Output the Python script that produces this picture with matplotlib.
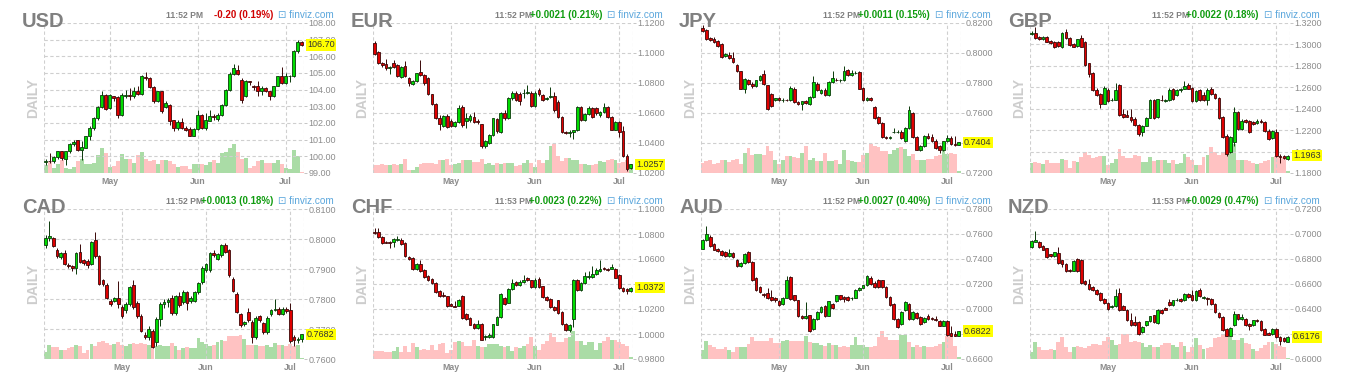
import matplotlib
matplotlib.use("Agg")
import matplotlib.pyplot as plt
import numpy as np

plt.rcParams["font.family"] = ["Liberation Sans", "DejaVu Sans"]

# daily candles, rows are (open, high, low, close); volumes in arbitrary units
usd_ohlc = [
    (99.65, 99.85, 99.5, 99.75), (99.75, 100.2, 99.6, 99.7), (99.7, 100.0, 99.6, 99.95),
    (99.95, 100.35, 99.85, 100.3), (100.3, 100.35, 99.8, 99.9), (99.85, 100.35, 99.5, 100.3),
    (100.3, 100.8, 100.2, 100.75), (100.75, 101.0, 100.6, 100.85), (101.0, 101.0, 100.3, 100.4),
    (100.4, 100.9, 99.8, 100.55), (100.5, 101.25, 100.5, 101.2), (101.2, 101.8, 101.0, 101.7),
    (101.7, 102.35, 101.6, 102.3), (102.3, 103.05, 102.2, 102.95), (102.95, 103.9, 102.9, 103.7),
    (103.7, 103.75, 102.8, 102.85), (102.9, 103.75, 102.85, 103.7), (103.6, 103.65, 103.3, 103.5),
    (103.55, 103.6, 102.3, 102.5), (102.5, 103.8, 102.4, 103.7), (103.6, 104.0, 103.5, 103.65),
    (103.65, 104.1, 103.4, 103.6), (103.6, 104.15, 103.5, 103.95), (103.95, 104.2, 103.7, 103.75),
    (103.75, 104.9, 103.7, 104.85), (104.75, 105.05, 104.6, 104.7), (104.7, 104.75, 104.1, 104.15),
    (104.15, 104.2, 103.2, 103.3), (103.3, 103.95, 103.25, 103.9), (103.9, 103.95, 102.6, 102.7),
    (102.95, 103.3, 102.9, 103.2), (103.1, 103.15, 101.9, 102.15), (102.15, 102.2, 101.55, 101.7),
    (101.7, 102.2, 101.6, 102.05), (102.05, 102.3, 101.65, 101.7), (101.7, 101.8, 101.5, 101.6),
    (101.65, 101.75, 101.2, 101.25), (101.25, 101.7, 101.2, 101.65), (101.65, 102.8, 101.6, 102.5),
    (102.5, 102.55, 101.65, 101.7), (101.7, 102.6, 101.6, 102.15), (102.15, 102.8, 102.1, 102.45),
    (102.45, 102.55, 102.2, 102.35), (102.25, 102.6, 102.1, 102.5), (102.5, 103.15, 102.4, 103.1),
    (103.1, 104.05, 103.0, 104.0), (104.0, 105.05, 103.9, 104.95), (104.95, 105.55, 104.9, 105.3),
    (105.2, 105.5, 104.9, 104.95), (104.6, 104.7, 103.2, 103.4), (103.6, 104.6, 103.55, 104.5),
    (104.5, 104.55, 104.3, 104.45), (104.2, 104.3, 104.0, 104.15), (104.2, 104.5, 103.6, 103.9),
    (103.9, 104.2, 103.7, 104.1), (104.1, 104.15, 103.85, 103.9), (103.9, 103.95, 103.4, 103.6),
    (103.6, 104.25, 103.55, 104.2), (104.2, 104.85, 104.2, 104.8), (104.8, 105.35, 104.35, 104.4),
    (104.4, 105.0, 104.35, 104.8), (104.8, 104.9, 104.45, 104.8), (104.8, 106.4, 104.75, 106.3),
    (106.3, 107.0, 106.2, 106.85), (106.85, 106.9, 106.6, 106.7),
]
usd_vol = [23, 33, 16, 28, 40, 15, 13, 18, 35, 41,
           28, 28, 30, 53, 75, 60, 18, 21, 35, 56,
           43, 43, 30, 55, 63, 41, 35, 40, 28, 38,
           40, 36, 28, 18, 22, 20, 13, 28, 28, 28,
           25, 33, 38, 30, 60, 63, 75, 86, 63, 43,
           45, 15, 21, 35, 40, 31, 31, 31, 40, 28,
           15, 13, 68, 51, 2]

eur_ohlc = [
    (1.1070, 1.1082, 1.0985, 1.0992), (1.1010, 1.1015, 1.0925, 1.0932), (1.0932, 1.0940, 1.0910, 1.0919),
    (1.0925, 1.0960, 1.0890, 1.0899), (1.0903, 1.0915, 1.0860, 1.0910), (1.0935, 1.0955, 1.0900, 1.0905),
    (1.0917, 1.0925, 1.0840, 1.0847), (1.0838, 1.0915, 1.0832, 1.0910), (1.0913, 1.0945, 1.0840, 1.0847),
    (1.0832, 1.0840, 1.0780, 1.0803), (1.0794, 1.0820, 1.0788, 1.0812), (1.0814, 1.0870, 1.0805, 1.0865),
    (1.0874, 1.0955, 1.0848, 1.0854), (1.0854, 1.0860, 1.0790, 1.0798), (1.0832, 1.0838, 1.0718, 1.0724),
    (1.0724, 1.0730, 1.0652, 1.0660), (1.0660, 1.0665, 1.0560, 1.0570), (1.0570, 1.0585, 1.0490, 1.0526),
    (1.0515, 1.0590, 1.0505, 1.0582), (1.0582, 1.0595, 1.0500, 1.0508), (1.0546, 1.0560, 1.0505, 1.0512),
    (1.0515, 1.0550, 1.0508, 1.0542), (1.0542, 1.0655, 1.0535, 1.0631), (1.0638, 1.0655, 1.0508, 1.0519),
    (1.0548, 1.0600, 1.0500, 1.0568), (1.0553, 1.0595, 1.0540, 1.0580), (1.0575, 1.0605, 1.0535, 1.0542),
    (1.0546, 1.0560, 1.0530, 1.0537), (1.0526, 1.0530, 1.0365, 1.0379), (1.0379, 1.0420, 1.0365, 1.0414),
    (1.0403, 1.0460, 1.0395, 1.0452), (1.0452, 1.0570, 1.0445, 1.0564), (1.0559, 1.0565, 1.0470, 1.0479),
    (1.0472, 1.0610, 1.0465, 1.0602), (1.0597, 1.0620, 1.0555, 1.0564), (1.0564, 1.0705, 1.0560, 1.0698),
    (1.0698, 1.0745, 1.0690, 1.0736), (1.0736, 1.0745, 1.0680, 1.0687), (1.0725, 1.0740, 1.0655, 1.0680),
    (1.0731, 1.0760, 1.0700, 1.0736), (1.0736, 1.0790, 1.0730, 1.0740), (1.0736, 1.0745, 1.0640, 1.0646),
    (1.0646, 1.0745, 1.0640, 1.0736), (1.0753, 1.0765, 1.0715, 1.0724), (1.0720, 1.0730, 1.0680, 1.0687),
    (1.0691, 1.0710, 1.0685, 1.0702), (1.0704, 1.0775, 1.0700, 1.0716), (1.0716, 1.0740, 1.0610, 1.0620),
    (1.0675, 1.0685, 1.0565, 1.0575), (1.0575, 1.0580, 1.0465, 1.0475), (1.0475, 1.0480, 1.0460, 1.0470),
    (1.0470, 1.0490, 1.0440, 1.0472), (1.0475, 1.0490, 1.0430, 1.0486), (1.0486, 1.0645, 1.0480, 1.0638),
    (1.0638, 1.0645, 1.0545, 1.0553), (1.0553, 1.0600, 1.0545, 1.0591), (1.0591, 1.0645, 1.0585, 1.0631),
    (1.0631, 1.0640, 1.0565, 1.0575), (1.0631, 1.0640, 1.0590, 1.0600), (1.0590, 1.0615, 1.0575, 1.0604),
    (1.0604, 1.0670, 1.0598, 1.0642), (1.0642, 1.0650, 1.0565, 1.0575), (1.0575, 1.0580, 1.0485, 1.0490),
    (1.0490, 1.0545, 1.0485, 1.0537), (1.0537, 1.0545, 1.0440, 1.0475), (1.0479, 1.0515, 1.0305, 1.0314),
    (1.0314, 1.0330, 1.0215, 1.0229), (1.0235, 1.0262, 1.0230, 1.0257),
]
eur_vol = [23, 23, 28, 25, 23, 26, 25, 26, 43, 8,
           8, 18, 28, 31, 30, 31, 28, 40, 38, 41,
           23, 28, 31, 38, 40, 40, 33, 33, 43, 28,
           30, 23, 31, 28, 31, 31, 31, 21, 23, 30,
           40, 31, 18, 40, 30, 40, 81, 86, 51, 36,
           46, 46, 38, 38, 28, 28, 23, 23, 28, 36,
           33, 40, 43, 38, 30, 33, 40, 12]

jpy_ohlc = [
    (0.8166, 0.8185, 0.8140, 0.8148), (0.8155, 0.8160, 0.8090, 0.8095), (0.8099, 0.8105, 0.8080, 0.8088),
    (0.8092, 0.8110, 0.8068, 0.8074), (0.8081, 0.8090, 0.8040, 0.8047), (0.8061, 0.8068, 0.7965, 0.7976),
    (0.7980, 0.8000, 0.7975, 0.7994), (0.7987, 0.8010, 0.7960, 0.7969), (0.7965, 0.8010, 0.7935, 0.7940),
    (0.7917, 0.7925, 0.7875, 0.7879), (0.7879, 0.7882, 0.7760, 0.7763), (0.7763, 0.7835, 0.7735, 0.7826),
    (0.7823, 0.7830, 0.7790, 0.7796), (0.7796, 0.7805, 0.7770, 0.7778), (0.7778, 0.7822, 0.7772, 0.7819),
    (0.7819, 0.7855, 0.7815, 0.7846), (0.7859, 0.7885, 0.7790, 0.7796), (0.7785, 0.7790, 0.7620, 0.7628),
    (0.7729, 0.7735, 0.7640, 0.7644), (0.7689, 0.7700, 0.7680, 0.7700), (0.7700, 0.7705, 0.7680, 0.7684),
    (0.7684, 0.7700, 0.7675, 0.7690), (0.7690, 0.7695, 0.7678, 0.7684), (0.7684, 0.7780, 0.7680, 0.7770),
    (0.7763, 0.7775, 0.7668, 0.7673), (0.7673, 0.7680, 0.7652, 0.7657), (0.7662, 0.7680, 0.7617, 0.7678),
    (0.7678, 0.7690, 0.7660, 0.7666), (0.7662, 0.7712, 0.7655, 0.7707), (0.7707, 0.7845, 0.7700, 0.7808),
    (0.7796, 0.7805, 0.7745, 0.7752), (0.7734, 0.7760, 0.7730, 0.7752), (0.7755, 0.7765, 0.7712, 0.7718),
    (0.7718, 0.7815, 0.7712, 0.7808), (0.7808, 0.7880, 0.7800, 0.7830), (0.7823, 0.7835, 0.7815, 0.7819),
    (0.7819, 0.7830, 0.7810, 0.7823), (0.7823, 0.7915, 0.7815, 0.7879), (0.7886, 0.7895, 0.7845, 0.7852),
    (0.7852, 0.7890, 0.7845, 0.7864), (0.7864, 0.7880, 0.7860, 0.7870), (0.7873, 0.7880, 0.7760, 0.7763),
    (0.7770, 0.7775, 0.7680, 0.7684), (0.7684, 0.7705, 0.7680, 0.7702), (0.7700, 0.7710, 0.7680, 0.7689),
    (0.7639, 0.7650, 0.7560, 0.7565), (0.7572, 0.7580, 0.7525, 0.7532), (0.7532, 0.7540, 0.7435, 0.7438),
    (0.7442, 0.7450, 0.7428, 0.7433), (0.7433, 0.7445, 0.7425, 0.7440), (0.7471, 0.7500, 0.7465, 0.7476),
    (0.7471, 0.7490, 0.7465, 0.7476), (0.7476, 0.7485, 0.7425, 0.7431), (0.7415, 0.7505, 0.7410, 0.7500),
    (0.7500, 0.7650, 0.7495, 0.7617), (0.7601, 0.7610, 0.7435, 0.7438), (0.7438, 0.7445, 0.7352, 0.7355),
    (0.7355, 0.7385, 0.7345, 0.7377), (0.7377, 0.7455, 0.7372, 0.7449), (0.7449, 0.7470, 0.7425, 0.7431),
    (0.7438, 0.7460, 0.7410, 0.7415), (0.7415, 0.7425, 0.7360, 0.7364), (0.7377, 0.7385, 0.7335, 0.7355),
    (0.7355, 0.7415, 0.7350, 0.7411), (0.7411, 0.7455, 0.7405, 0.7431), (0.7431, 0.7450, 0.7390, 0.7393),
    (0.7393, 0.7445, 0.7380, 0.7386), (0.7390, 0.7410, 0.7385, 0.7404),
]
jpy_vol = [30, 35, 38, 28, 31, 40, 38, 33, 40, 43,
           28, 60, 75, 53, 58, 58, 55, 81, 65, 40,
           26, 40, 51, 51, 48, 46, 60, 80, 40, 45,
           36, 36, 60, 36, 35, 40, 28, 68, 38, 36,
           33, 33, 53, 60, 88, 81, 78, 66, 66, 58,
           68, 75, 78, 73, 51, 56, 40, 40, 38, 43,
           43, 50, 53, 65, 56, 60, 56, 6]

gbp_ohlc = [
    (1.3100, 1.3122, 1.3090, 1.3106), (1.3106, 1.3162, 1.3050, 1.3059), (1.3065, 1.3080, 1.3040, 1.3049),
    (1.3049, 1.3075, 1.3040, 1.3068), (1.3068, 1.3075, 1.3020, 1.3027), (1.3034, 1.3045, 1.3000, 1.3012),
    (1.3027, 1.3035, 1.2970, 1.2980), (1.3018, 1.3030, 1.2980, 1.2987), (1.2980, 1.3115, 1.2965, 1.3106),
    (1.3115, 1.3140, 1.3050, 1.3059), (1.3059, 1.3065, 1.2990, 1.2996), (1.3002, 1.3010, 1.2975, 1.2980),
    (1.2987, 1.3055, 1.2980, 1.3049), (1.3059, 1.3090, 1.2975, 1.2980), (1.3027, 1.3035, 1.2800, 1.2808),
    (1.2823, 1.2830, 1.2700, 1.2723), (1.2735, 1.2740, 1.2565, 1.2572), (1.2572, 1.2590, 1.2515, 1.2525),
    (1.2535, 1.2545, 1.2410, 1.2447), (1.2447, 1.2610, 1.2440, 1.2597), (1.2579, 1.2590, 1.2465, 1.2472),
    (1.2478, 1.2500, 1.2470, 1.2484), (1.2484, 1.2640, 1.2478, 1.2572), (1.2626, 1.2632, 1.2330, 1.2337),
    (1.2353, 1.2400, 1.2310, 1.2321), (1.2337, 1.2390, 1.2320, 1.2327), (1.2321, 1.2395, 1.2280, 1.2296),
    (1.2305, 1.2320, 1.2240, 1.2252), (1.2252, 1.2260, 1.2150, 1.2164), (1.2180, 1.2250, 1.2150, 1.2243),
    (1.2243, 1.2320, 1.2235, 1.2315), (1.2315, 1.2490, 1.2310, 1.2478), (1.2484, 1.2495, 1.2305, 1.2315),
    (1.2321, 1.2495, 1.2315, 1.2487), (1.2484, 1.2525, 1.2470, 1.2478), (1.2470, 1.2490, 1.2460, 1.2480),
    (1.2478, 1.2590, 1.2470, 1.2579), (1.2588, 1.2595, 1.2480, 1.2494), (1.2525, 1.2580, 1.2515, 1.2572),
    (1.2572, 1.2595, 1.2560, 1.2588), (1.2588, 1.2660, 1.2580, 1.2610), (1.2619, 1.2640, 1.2580, 1.2588),
    (1.2597, 1.2605, 1.2460, 1.2472), (1.2472, 1.2575, 1.2465, 1.2566), (1.2572, 1.2580, 1.2475, 1.2484),
    (1.2525, 1.2560, 1.2470, 1.2478), (1.2478, 1.2590, 1.2430, 1.2579), (1.2588, 1.2600, 1.2525, 1.2535),
    (1.2541, 1.2550, 1.2495, 1.2503), (1.2503, 1.2510, 1.2305, 1.2315), (1.2321, 1.2330, 1.2125, 1.2133),
    (1.2149, 1.2160, 1.1955, 1.1982), (1.1992, 1.2150, 1.1985, 1.2139), (1.2086, 1.2420, 1.2050, 1.2368),
    (1.2368, 1.2375, 1.2200, 1.2211), (1.2211, 1.2300, 1.2205, 1.2284), (1.2296, 1.2305, 1.2265, 1.2274),
    (1.2284, 1.2295, 1.2170, 1.2180), (1.2274, 1.2285, 1.2250, 1.2258), (1.2264, 1.2300, 1.2255, 1.2284),
    (1.2284, 1.2300, 1.2265, 1.2274), (1.2274, 1.2285, 1.2180, 1.2189), (1.2196, 1.2210, 1.2110, 1.2117),
    (1.2127, 1.2200, 1.2120, 1.2189), (1.2186, 1.2215, 1.1950, 1.1960), (1.1960, 1.1975, 1.1890, 1.1945),
    (1.1955, 1.1965, 1.1930, 1.1940), (1.1929, 1.1970, 1.1920, 1.1963),
]
gbp_vol = [30, 33, 31, 28, 38, 31, 31, 31, 43, 40,
           15, 35, 33, 48, 63, 53, 46, 48, 50, 50,
           25, 30, 43, 71, 50, 45, 45, 53, 50, 33,
           33, 48, 35, 40, 40, 40, 30, 38, 28, 30,
           58, 48, 40, 23, 23, 48, 55, 77, 63, 53,
           63, 58, 60, 88, 40, 40, 38, 35, 30, 28,
           30, 35, 40, 48, 50, 52, 48, 5]

cad_ohlc = [
    (0.7979, 0.8012, 0.7970, 0.8004), (0.8002, 0.8061, 0.7995, 0.8011), (0.8002, 0.8008, 0.7972, 0.7976),
    (0.7965, 0.7970, 0.7938, 0.7943), (0.7940, 0.7956, 0.7934, 0.7952), (0.7952, 0.7965, 0.7912, 0.7916),
    (0.7913, 0.7920, 0.7905, 0.7909), (0.7909, 0.7915, 0.7895, 0.7905), (0.7905, 0.7957, 0.7885, 0.7952),
    (0.7957, 0.7982, 0.7920, 0.7924), (0.7929, 0.7935, 0.7915, 0.7920), (0.7926, 0.7932, 0.7905, 0.7913),
    (0.7916, 0.7995, 0.7912, 0.7991), (0.7998, 0.8022, 0.7938, 0.7943), (0.7943, 0.7948, 0.7848, 0.7851),
    (0.7862, 0.7866, 0.7845, 0.7851), (0.7848, 0.7852, 0.7800, 0.7804), (0.7795, 0.7800, 0.7778, 0.7784),
    (0.7795, 0.7808, 0.7790, 0.7804), (0.7804, 0.7860, 0.7770, 0.7784), (0.7775, 0.7780, 0.7738, 0.7742),
    (0.7762, 0.7790, 0.7755, 0.7782), (0.7782, 0.7845, 0.7778, 0.7840), (0.7848, 0.7862, 0.7768, 0.7773),
    (0.7787, 0.7795, 0.7738, 0.7742), (0.7745, 0.7750, 0.7690, 0.7695), (0.7681, 0.7690, 0.7668, 0.7672),
    (0.7672, 0.7710, 0.7665, 0.7700), (0.7695, 0.7700, 0.7636, 0.7641), (0.7656, 0.7740, 0.7645, 0.7732),
    (0.7732, 0.7790, 0.7710, 0.7784), (0.7784, 0.7800, 0.7770, 0.7790), (0.7790, 0.7805, 0.7775, 0.7798),
    (0.7804, 0.7812, 0.7748, 0.7753), (0.7753, 0.7815, 0.7748, 0.7809), (0.7809, 0.7825, 0.7774, 0.7779),
    (0.7790, 0.7830, 0.7785, 0.7823), (0.7823, 0.7828, 0.7765, 0.7786), (0.7795, 0.7810, 0.7788, 0.7804),
    (0.7795, 0.7828, 0.7790, 0.7823), (0.7823, 0.7858, 0.7818, 0.7853), (0.7857, 0.7910, 0.7850, 0.7905),
    (0.7898, 0.7920, 0.7890, 0.7916), (0.7896, 0.7958, 0.7890, 0.7952), (0.7954, 0.7965, 0.7940, 0.7946),
    (0.7935, 0.7952, 0.7930, 0.7949), (0.7946, 0.7982, 0.7940, 0.7979), (0.7979, 0.7988, 0.7955, 0.7957),
    (0.7963, 0.7968, 0.7875, 0.7879), (0.7868, 0.7875, 0.7822, 0.7827), (0.7818, 0.7822, 0.7752, 0.7756),
    (0.7751, 0.7755, 0.7708, 0.7712), (0.7717, 0.7728, 0.7710, 0.7725), (0.7756, 0.7770, 0.7725, 0.7731),
    (0.7725, 0.7730, 0.7655, 0.7672), (0.7672, 0.7742, 0.7668, 0.7737), (0.7742, 0.7748, 0.7725, 0.7731),
    (0.7721, 0.7725, 0.7685, 0.7689), (0.7689, 0.7742, 0.7685, 0.7737), (0.7751, 0.7768, 0.7745, 0.7765),
    (0.7765, 0.7800, 0.7760, 0.7767), (0.7767, 0.7772, 0.7748, 0.7751), (0.7751, 0.7775, 0.7748, 0.7767),
    (0.7767, 0.7772, 0.7755, 0.7760), (0.7762, 0.7788, 0.7655, 0.7661), (0.7673, 0.7680, 0.7645, 0.7664),
    (0.7664, 0.7675, 0.7655, 0.7668), (0.7668, 0.7685, 0.7658, 0.7682),
]
cad_vol = [22, 43, 35, 35, 27, 27, 32, 35, 42, 40,
           17, 27, 45, 40, 50, 53, 47, 43, 45, 50,
           43, 40, 45, 47, 45, 48, 45, 43, 40, 39,
           43, 38, 40, 47, 38, 27, 33, 35, 33, 33,
           62, 50, 45, 39, 43, 50, 57, 55, 68, 70,
           68, 73, 60, 43, 43, 43, 39, 39, 41, 35,
           49, 43, 43, 40, 45, 40, 43, 2]

chf_ohlc = [
    (1.0818, 1.0850, 1.0800, 1.0810), (1.0818, 1.0852, 1.0770, 1.0778), (1.0778, 1.0785, 1.0722, 1.0730),
    (1.0738, 1.0745, 1.0725, 1.0730), (1.0738, 1.0745, 1.0690, 1.0730), (1.0738, 1.0770, 1.0700, 1.0764),
    (1.0750, 1.0786, 1.0745, 1.0764), (1.0756, 1.0765, 1.0715, 1.0724), (1.0730, 1.0735, 1.0615, 1.0622),
    (1.0617, 1.0625, 1.0590, 1.0601), (1.0609, 1.0615, 1.0515, 1.0523), (1.0523, 1.0565, 1.0515, 1.0558),
    (1.0558, 1.0590, 1.0498, 1.0504), (1.0510, 1.0518, 1.0450, 1.0456), (1.0462, 1.0470, 1.0428, 1.0435),
    (1.0443, 1.0450, 1.0400, 1.0408), (1.0408, 1.0415, 1.0328, 1.0336), (1.0344, 1.0352, 1.0295, 1.0301),
    (1.0314, 1.0340, 1.0295, 1.0301), (1.0301, 1.0308, 1.0220, 1.0228), (1.0242, 1.0250, 1.0222, 1.0228),
    (1.0228, 1.0265, 1.0215, 1.0220), (1.0228, 1.0282, 1.0222, 1.0274), (1.0301, 1.0310, 1.0120, 1.0129),
    (1.0161, 1.0168, 1.0115, 1.0121), (1.0127, 1.0135, 1.0070, 1.0076), (1.0081, 1.0090, 1.0042, 1.0049),
    (1.0049, 1.0110, 1.0042, 1.0081), (1.0081, 1.0088, 0.9952, 0.9955), (0.9974, 0.9995, 0.9955, 0.9987),
    (0.9979, 1.0005, 0.9965, 0.9993), (0.9979, 1.0082, 0.9972, 1.0076), (1.0076, 1.0142, 1.0070, 1.0135),
    (1.0135, 1.0325, 1.0128, 1.0317), (1.0290, 1.0298, 1.0235, 1.0242), (1.0250, 1.0370, 1.0245, 1.0362),
    (1.0362, 1.0440, 1.0355, 1.0408), (1.0416, 1.0425, 1.0382, 1.0389), (1.0395, 1.0430, 1.0388, 1.0416),
    (1.0416, 1.0470, 1.0410, 1.0435), (1.0451, 1.0458, 1.0422, 1.0429), (1.0429, 1.0435, 1.0370, 1.0376),
    (1.0376, 1.0445, 1.0370, 1.0435), (1.0443, 1.0455, 1.0370, 1.0376), (1.0381, 1.0388, 1.0288, 1.0295),
    (1.0295, 1.0302, 1.0268, 1.0274), (1.0282, 1.0290, 1.0208, 1.0215), (1.0215, 1.0222, 1.0188, 1.0194),
    (1.0269, 1.0276, 1.0160, 1.0167), (1.0175, 1.0182, 1.0075, 1.0081), (1.0081, 1.0088, 1.0026, 1.0033),
    (1.0033, 1.0082, 1.0020, 1.0076), (1.0121, 1.0442, 1.0060, 1.0435), (1.0435, 1.0442, 1.0342, 1.0349),
    (1.0349, 1.0415, 1.0342, 1.0408), (1.0408, 1.0500, 1.0400, 1.0462), (1.0456, 1.0505, 1.0440, 1.0462),
    (1.0456, 1.0545, 1.0450, 1.0483), (1.0483, 1.0530, 1.0476, 1.0510), (1.0504, 1.0590, 1.0498, 1.0523),
    (1.0531, 1.0540, 1.0510, 1.0518), (1.0518, 1.0528, 1.0505, 1.0512), (1.0523, 1.0560, 1.0518, 1.0537),
    (1.0523, 1.0530, 1.0445, 1.0451), (1.0470, 1.0478, 1.0362, 1.0370), (1.0370, 1.0380, 1.0335, 1.0344),
    (1.0362, 1.0370, 1.0320, 1.0345), (1.0344, 1.0380, 1.0338, 1.0372),
]
chf_vol = [25, 25, 25, 20, 20, 25, 35, 20, 40, 22,
           47, 35, 27, 30, 27, 43, 27, 45, 47, 17,
           27, 50, 55, 52, 40, 40, 58, 40, 35, 37,
           45, 45, 45, 38, 37, 38, 25, 35, 33, 40,
           45, 67, 40, 27, 45, 53, 77, 65, 50, 50,
           63, 65, 85, 55, 55, 43, 50, 50, 27, 48,
           55, 65, 58, 58, 50, 45, 38, 7]

aud_ohlc = [
    (0.7484, 0.7560, 0.7478, 0.7551), (0.7551, 0.7663, 0.7545, 0.7599), (0.7578, 0.7590, 0.7498, 0.7503),
    (0.7524, 0.7530, 0.7470, 0.7476), (0.7484, 0.7492, 0.7456, 0.7462), (0.7462, 0.7470, 0.7425, 0.7430),
    (0.7457, 0.7465, 0.7416, 0.7422), (0.7422, 0.7482, 0.7418, 0.7452), (0.7452, 0.7460, 0.7410, 0.7417),
    (0.7390, 0.7398, 0.7336, 0.7342), (0.7345, 0.7375, 0.7340, 0.7369), (0.7369, 0.7450, 0.7362, 0.7444),
    (0.7457, 0.7465, 0.7370, 0.7377), (0.7377, 0.7385, 0.7222, 0.7229), (0.7251, 0.7258, 0.7148, 0.7154),
    (0.7176, 0.7185, 0.7130, 0.7136), (0.7122, 0.7130, 0.7100, 0.7109), (0.7128, 0.7170, 0.7082, 0.7090),
    (0.7095, 0.7150, 0.7062, 0.7069), (0.7090, 0.7100, 0.7060, 0.7069), (0.7063, 0.7070, 0.7022, 0.7029),
    (0.7042, 0.7095, 0.7035, 0.7090), (0.7090, 0.7268, 0.7085, 0.7235), (0.7256, 0.7265, 0.7075, 0.7082),
    (0.7109, 0.7115, 0.7062, 0.7069), (0.7069, 0.7075, 0.6940, 0.6948), (0.6948, 0.6955, 0.6922, 0.6929),
    (0.6929, 0.7055, 0.6920, 0.6948), (0.6948, 0.6955, 0.6815, 0.6822), (0.6841, 0.6928, 0.6835, 0.6921),
    (0.6921, 0.6982, 0.6915, 0.6975), (0.6975, 0.7022, 0.6968, 0.7015), (0.7028, 0.7035, 0.6940, 0.6948),
    (0.6948, 0.7068, 0.6942, 0.7061), (0.7042, 0.7050, 0.7002, 0.7010), (0.7061, 0.7115, 0.7055, 0.7109),
    (0.7109, 0.7115, 0.7075, 0.7082), (0.7100, 0.7108, 0.7060, 0.7082), (0.7095, 0.7102, 0.7068, 0.7074),
    (0.7085, 0.7098, 0.7075, 0.7090), (0.7090, 0.7160, 0.7085, 0.7154), (0.7154, 0.7175, 0.7148, 0.7170),
    (0.7170, 0.7195, 0.7165, 0.7189), (0.7189, 0.7275, 0.7182, 0.7262), (0.7251, 0.7268, 0.7190, 0.7197),
    (0.7208, 0.7225, 0.7170, 0.7176), (0.7229, 0.7240, 0.7170, 0.7176), (0.7229, 0.7235, 0.7170, 0.7176),
    (0.7176, 0.7182, 0.7088, 0.7095), (0.7095, 0.7102, 0.7022, 0.7029), (0.7042, 0.7050, 0.6915, 0.6921),
    (0.6921, 0.6928, 0.6845, 0.6854), (0.6881, 0.6985, 0.6872, 0.6975), (0.6994, 0.7062, 0.6988, 0.7055),
    (0.7042, 0.7050, 0.6915, 0.6921), (0.6921, 0.6982, 0.6915, 0.6975), (0.6967, 0.6975, 0.6922, 0.6929),
    (0.6935, 0.6942, 0.6875, 0.6881), (0.6895, 0.6935, 0.6888, 0.6929), (0.6948, 0.6962, 0.6915, 0.6921),
    (0.6925, 0.6940, 0.6912, 0.6918), (0.6918, 0.6945, 0.6905, 0.6912), (0.6908, 0.6915, 0.6862, 0.6868),
    (0.6868, 0.6912, 0.6860, 0.6908), (0.6908, 0.6912, 0.6785, 0.6796), (0.6806, 0.6860, 0.6780, 0.6787),
    (0.6800, 0.6825, 0.6780, 0.6787), (0.6787, 0.6828, 0.6780, 0.6822),
]
aud_vol = [27, 55, 43, 37, 30, 30, 37, 27, 20, 37,
           35, 37, 45, 65, 55, 55, 55, 55, 63, 47,
           47, 55, 57, 55, 55, 55, 53, 68, 50, 47,
           47, 43, 40, 47, 43, 43, 35, 40, 35, 43,
           67, 43, 43, 35, 35, 40, 65, 85, 67, 58,
           58, 58, 73, 73, 50, 37, 43, 35, 40, 35,
           35, 40, 45, 50, 70, 70, 40, 5]

nzd_ohlc = [
    (0.6897, 0.6955, 0.6890, 0.6946), (0.6938, 0.7023, 0.6932, 0.6951), (0.6938, 0.6945, 0.6885, 0.6892),
    (0.6903, 0.6910, 0.6870, 0.6876), (0.6884, 0.6890, 0.6810, 0.6817), (0.6836, 0.6842, 0.6815, 0.6822),
    (0.6822, 0.6858, 0.6816, 0.6852), (0.6849, 0.6895, 0.6760, 0.6769), (0.6790, 0.6796, 0.6735, 0.6763),
    (0.6758, 0.6765, 0.6698, 0.6704), (0.6715, 0.6722, 0.6698, 0.6704), (0.6704, 0.6792, 0.6700, 0.6785),
    (0.6796, 0.6805, 0.6698, 0.6704), (0.6796, 0.6800, 0.6600, 0.6608), (0.6624, 0.6632, 0.6590, 0.6597),
    (0.6603, 0.6640, 0.6555, 0.6562), (0.6576, 0.6584, 0.6542, 0.6549), (0.6554, 0.6562, 0.6515, 0.6522),
    (0.6528, 0.6535, 0.6462, 0.6469), (0.6482, 0.6490, 0.6440, 0.6447), (0.6447, 0.6455, 0.6396, 0.6402),
    (0.6415, 0.6430, 0.6408, 0.6423), (0.6420, 0.6560, 0.6415, 0.6501), (0.6528, 0.6565, 0.6380, 0.6388),
    (0.6423, 0.6430, 0.6388, 0.6394), (0.6394, 0.6400, 0.6300, 0.6308), (0.6313, 0.6370, 0.6265, 0.6273),
    (0.6295, 0.6340, 0.6265, 0.6273), (0.6295, 0.6302, 0.6195, 0.6201), (0.6214, 0.6260, 0.6205, 0.6254),
    (0.6268, 0.6305, 0.6262, 0.6300), (0.6300, 0.6345, 0.6294, 0.6340), (0.6348, 0.6355, 0.6288, 0.6295),
    (0.6287, 0.6402, 0.6280, 0.6394), (0.6394, 0.6400, 0.6360, 0.6367), (0.6410, 0.6418, 0.6388, 0.6394),
    (0.6455, 0.6480, 0.6420, 0.6428), (0.6428, 0.6476, 0.6422, 0.6469), (0.6469, 0.6490, 0.6462, 0.6474),
    (0.6482, 0.6490, 0.6455, 0.6461), (0.6469, 0.6525, 0.6462, 0.6517), (0.6522, 0.6530, 0.6488, 0.6495),
    (0.6509, 0.6550, 0.6462, 0.6469), (0.6469, 0.6552, 0.6462, 0.6544), (0.6554, 0.6565, 0.6494, 0.6501),
    (0.6490, 0.6500, 0.6482, 0.6495), (0.6490, 0.6498, 0.6430, 0.6482), (0.6482, 0.6490, 0.6435, 0.6442),
    (0.6442, 0.6450, 0.6368, 0.6375), (0.6367, 0.6374, 0.6328, 0.6335), (0.6335, 0.6342, 0.6226, 0.6233),
    (0.6241, 0.6248, 0.6180, 0.6187), (0.6187, 0.6255, 0.6180, 0.6249), (0.6268, 0.6380, 0.6262, 0.6362),
    (0.6356, 0.6362, 0.6314, 0.6321), (0.6321, 0.6360, 0.6315, 0.6335), (0.6321, 0.6328, 0.6262, 0.6268),
    (0.6281, 0.6290, 0.6235, 0.6260), (0.6268, 0.6315, 0.6262, 0.6308), (0.6313, 0.6320, 0.6296, 0.6303),
    (0.6303, 0.6310, 0.6226, 0.6233), (0.6241, 0.6248, 0.6188, 0.6195), (0.6206, 0.6215, 0.6188, 0.6195),
    (0.6200, 0.6250, 0.6195, 0.6241), (0.6241, 0.6248, 0.6168, 0.6174), (0.6179, 0.6186, 0.6110, 0.6142),
    (0.6165, 0.6172, 0.6132, 0.6145), (0.6139, 0.6182, 0.6132, 0.6176),
]
nzd_vol = [22, 52, 35, 27, 28, 30, 27, 50, 65, 35,
           22, 35, 38, 35, 33, 40, 45, 45, 42, 55,
           67, 58, 42, 45, 75, 75, 52, 55, 52, 47,
           37, 43, 35, 37, 42, 47, 47, 43, 37, 50,
           40, 22, 37, 63, 42, 30, 33, 35, 63, 65,
           75, 73, 65, 57, 57, 62, 47, 45, 30, 25,
           33, 43, 50, 50, 45, 40, 35, 3]

names = ["USD", "EUR", "JPY", "GBP", "CAD", "CHF", "AUD", "NZD"]
clocks = ["11:52 PM", "11:52 PM", "11:52 PM", "11:52 PM",
          "11:52 PM", "11:53 PM", "11:52 PM", "11:53 PM"]
changes = ["-0.20 (0.19%)", "+0.0021 (0.21%)", "+0.0011 (0.15%)", "+0.0022 (0.18%)",
           "+0.0013 (0.18%)", "+0.0023 (0.22%)", "+0.0027 (0.40%)", "+0.0029 (0.47%)"]
y_ranges = [(99.0, 108.0, 1.0), (1.02, 1.12, 0.02), (0.72, 0.82, 0.02), (1.18, 1.32, 0.02),
            (0.76, 0.81, 0.01), (0.98, 1.10, 0.02), (0.66, 0.78, 0.02), (0.60, 0.72, 0.02)]
decimals = [2, 4, 4, 4, 4, 4, 4, 4]
month_labels = ["May", "Jun", "Jul"]
month_index = [[16, 38, 60], [20, 42, 64], [20, 42, 64], [20, 42, 64],
               [20, 42, 64], [20, 42, 64], [20, 42, 64], [20, 42, 64]]
all_ohlc = [usd_ohlc, eur_ohlc, jpy_ohlc, gbp_ohlc, cad_ohlc, chf_ohlc, aud_ohlc, nzd_ohlc]
all_vol = [usd_vol, eur_vol, jpy_vol, gbp_vol, cad_vol, chf_vol, aud_vol, nzd_vol]

W, H = 1350, 387
PLOT_LEFT = [44, 373, 701, 1030]
PLOT_TOP = [23, 209]
PLOT_W, PLOT_H = 260, 150

UP_FILL, UP_EDGE = "#00dc00", "#0a3a0a"
DN_FILL, DN_EDGE = "#e00000", "#3a0808"
VOL_UP, VOL_DN = "#aadca6", "#ffc2c2"
GRID = "#cfcfcf"
LABEL = "#8c8c8c"


def fx(x):
    return x / W


def fy(y):
    return 1 - y / H


def draw_panel(fig, k):
    left = PLOT_LEFT[k % 4]
    top = PLOT_TOP[k // 4]
    ohlc = np.array(all_ohlc[k])
    vol = np.array(all_vol[k])
    o, hi, lo, c = ohlc.T
    n = len(ohlc)
    x = np.arange(n)
    up = c >= o
    y_lo, y_hi, step = y_ranges[k]

    rect = [fx(left), fy(top + PLOT_H), PLOT_W / W, PLOT_H / H]
    vax = fig.add_axes(rect)
    ax = fig.add_axes(rect)
    ax.patch.set_visible(False)

    # volume sits underneath the candles
    vax.bar(x, vol, width=1.0, color=[VOL_UP if u else VOL_DN for u in up],
            linewidth=0, zorder=2)
    vax.set_xlim(-0.4, n - 0.4)
    vax.set_ylim(0, 450)
    vax.axis("off")

    yt = np.arange(y_lo, y_hi + step / 2, step)
    for yv in yt:
        ax.axhline(yv, color=GRID, lw=0.8, ls=(0, (3, 2.2)), zorder=0)
    for xv in [-0.4, n - 0.4] + month_index[k]:
        ax.axvline(xv, color=GRID, lw=0.8, ls=(0, (3, 2.2)), zorder=0)

    ax.vlines(x, lo, hi, colors=[UP_EDGE if u else DN_EDGE for u in up], lw=0.7, zorder=2)
    ax.bar(x, np.abs(c - o), bottom=np.minimum(o, c), width=0.72,
           color=[UP_FILL if u else DN_FILL for u in up],
           edgecolor=[UP_EDGE if u else DN_EDGE for u in up], linewidth=0.6, zorder=3)

    ax.set_xlim(-0.4, n - 0.4)
    ax.set_ylim(y_lo, y_hi)
    for s in ax.spines.values():
        s.set_visible(False)
    ax.yaxis.tick_right()
    ax.set_yticks(yt)
    ax.set_yticklabels([f"{v:.{decimals[k]}f}" for v in yt])
    ax.tick_params(axis="y", length=2, width=0.6, color="#bbbbbb", pad=1.2,
                   labelsize=6.5, labelcolor=LABEL)
    ax.set_xticks(month_index[k])
    ax.set_xticklabels(month_labels)
    ax.tick_params(axis="x", length=0, pad=3, labelsize=6.3, labelcolor=LABEL)
    for t in ax.get_xticklabels():
        t.set_fontweight("bold")

    # last price tag
    ax.annotate(f"{c[-1]:.{decimals[k]}f}", xy=(1, c[-1]),
                xycoords=("axes fraction", "data"), xytext=(2.2, 0),
                textcoords="offset points", ha="left", va="center",
                fontsize=6.5, color="#333333", zorder=20,
                annotation_clip=False,
                bbox=dict(boxstyle="square,pad=0.15", fc="#ffff00", ec="none"))

    # header texts
    fig.text(fx(left - 22), fy(top + 4), names[k], fontsize=14.5, fontweight="bold",
             color="#808080", ha="left", va="baseline")
    fig.text(fx(left - 11), fy(top + PLOT_H / 2), "DAILY", fontsize=10, fontweight="bold",
             color="#cdcdcd", rotation=90, ha="center", va="center")
    hy = fy(top - 8)
    fig.text(fx(left + 122), hy, clocks[k], fontsize=6.2, fontweight="bold",
             color="#808080", ha="left", va="center")
    fig.text(fx(left + 229), hy, changes[k], fontsize=7, fontweight="bold",
             color="#d00000" if changes[k].startswith("-") else "#109c10",
             ha="right", va="center")
    fig.text(fx(left + 234), hy, "\u22a1 finviz.com", fontsize=7.2,
             color="#5aa6dc", ha="left", va="center")


fig = plt.figure(figsize=(W / 100, H / 100), dpi=100)
fig.patch.set_facecolor("white")
for k in range(8):
    draw_panel(fig, k)

fig.savefig("out.png", dpi=100)
